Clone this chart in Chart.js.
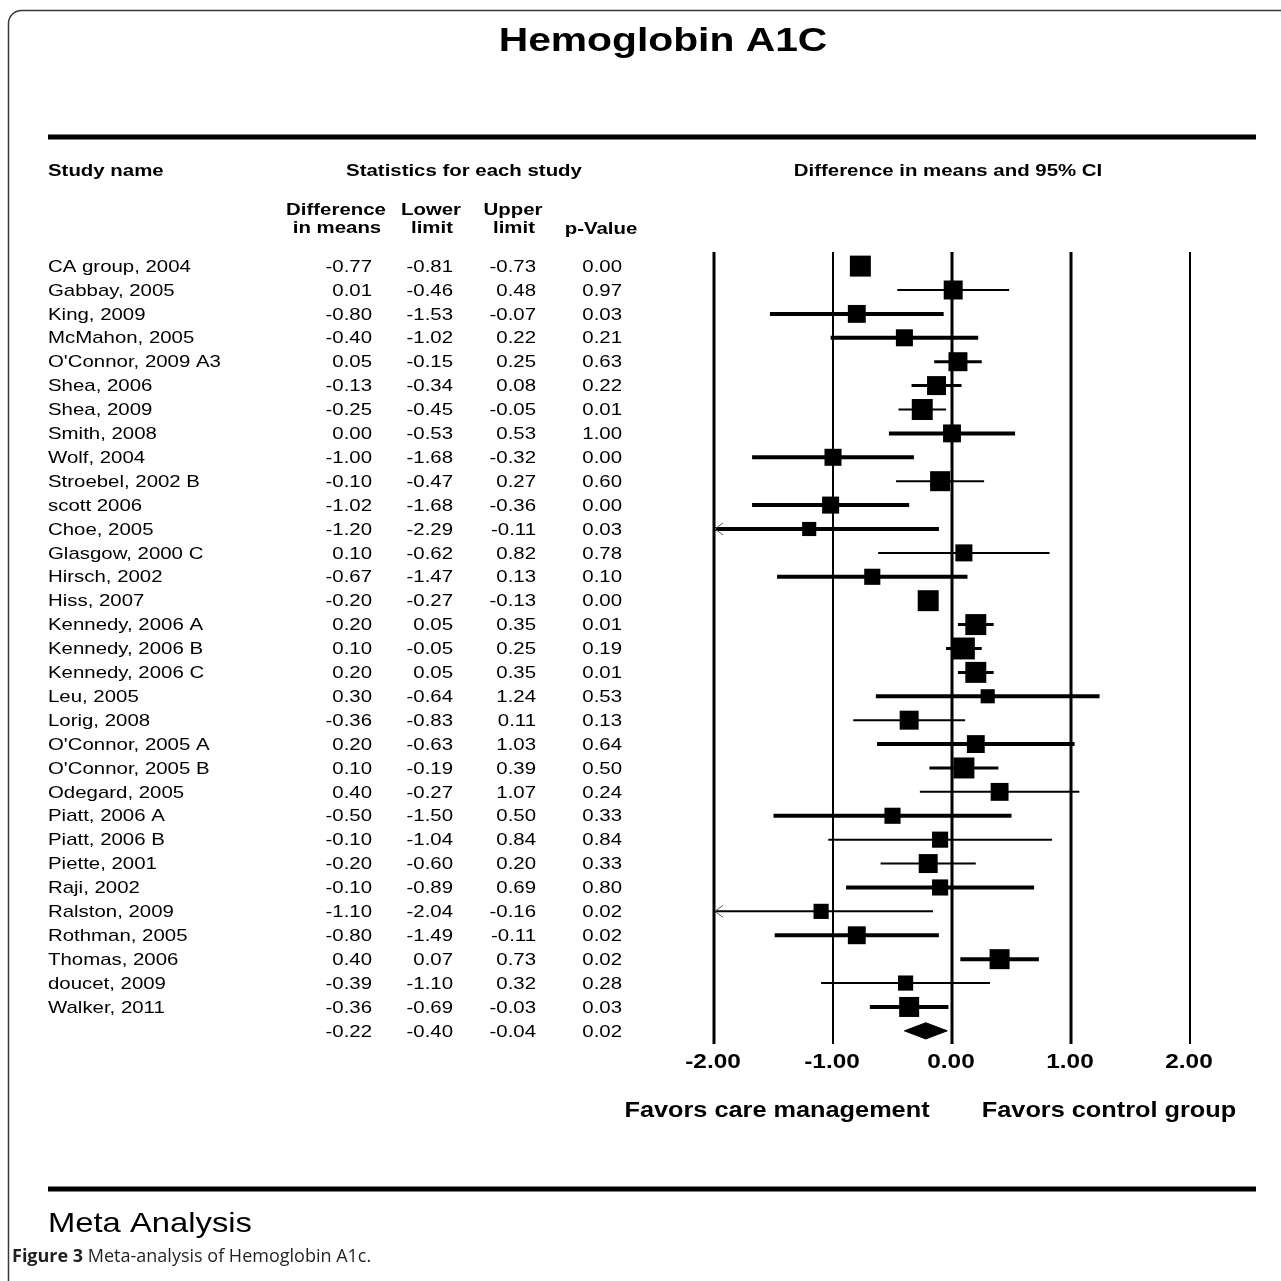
<!DOCTYPE html>
<html>
<head>
<meta charset="utf-8">
<script src="https://cdn.jsdelivr.net/npm/chart.js@4.4.1/dist/chart.umd.min.js"></script>
<style>
  html, body { margin: 0; padding: 0; background: #fff; }
  canvas { display: block; }
</style>
</head>
<body>
<canvas id="forest" width="1281" height="1281"></canvas>
<script>
// study rows, top to bottom
const studies = [
  'CA group, 2004', 'Gabbay, 2005', 'King, 2009', 'McMahon, 2005', "O'Connor, 2009 A3",
  'Shea, 2006', 'Shea, 2009', 'Smith, 2008', 'Wolf, 2004', 'Stroebel, 2002 B',
  'scott 2006', 'Choe, 2005', 'Glasgow, 2000 C', 'Hirsch, 2002', 'Hiss, 2007',
  'Kennedy, 2006 A', 'Kennedy, 2006 B', 'Kennedy, 2006 C', 'Leu, 2005', 'Lorig, 2008',
  "O'Connor, 2005 A", "O'Connor, 2005 B", 'Odegard, 2005', 'Piatt, 2006 A', 'Piatt, 2006 B',
  'Piette, 2001', 'Raji, 2002', 'Ralston, 2009', 'Rothman, 2005', 'Thomas, 2006',
  'doucet, 2009', 'Walker, 2011'
];
const diffs = [
  -0.77, 0.01, -0.80, -0.40, 0.05, -0.13, -0.25, 0.00, -1.00, -0.10,
  -1.02, -1.20, 0.10, -0.67, -0.20, 0.20, 0.10, 0.20, 0.30, -0.36,
  0.20, 0.10, 0.40, -0.50, -0.10, -0.20, -0.10, -1.10, -0.80, 0.40,
  -0.39, -0.36
];
const lowers = [
  -0.81, -0.46, -1.53, -1.02, -0.15, -0.34, -0.45, -0.53, -1.68, -0.47,
  -1.68, -2.29, -0.62, -1.47, -0.27, 0.05, -0.05, 0.05, -0.64, -0.83,
  -0.63, -0.19, -0.27, -1.50, -1.04, -0.60, -0.89, -2.04, -1.49, 0.07,
  -1.10, -0.69
];
const uppers = [
  -0.73, 0.48, -0.07, 0.22, 0.25, 0.08, -0.05, 0.53, -0.32, 0.27,
  -0.36, -0.11, 0.82, 0.13, -0.13, 0.35, 0.25, 0.35, 1.24, 0.11,
  1.03, 0.39, 1.07, 0.50, 0.84, 0.20, 0.69, -0.16, -0.11, 0.73,
  0.32, -0.03
];
const pValues = [
  0.00, 0.97, 0.03, 0.21, 0.63, 0.22, 0.01, 1.00, 0.00, 0.60,
  0.00, 0.03, 0.78, 0.10, 0.00, 0.01, 0.19, 0.01, 0.53, 0.13,
  0.64, 0.50, 0.24, 0.33, 0.84, 0.33, 0.80, 0.02, 0.02, 0.02,
  0.28, 0.03
];
// relative study weights (%)
const weights = [
  4.4, 3.6, 3.2, 2.9, 3.6, 3.6, 4.4, 3.2, 2.9, 4.0,
  2.9, 2.0, 2.9, 2.6, 4.4, 4.4, 4.8, 4.4, 2.0, 3.6,
  3.2, 4.4, 3.2, 2.6, 2.6, 3.6, 2.6, 2.3, 3.2, 4.0,
  2.3, 4.0
];
// pooled result
const summaryDiff = -0.22;
const summaryLower = -0.40;
const summaryUpper = -0.04;
const summaryP = 0.02;

const xTicks = [-2, -1, 0, 1, 2];

const FONT = '"Liberation Sans", Arial, sans-serif';
const summaryRow = studies.length;
// CI stroke widths as they come out in the original export
const ciWidths = [
  4, 2, 4, 4, 3, 3, 2, 4, 4, 2,
  4, 4, 2, 4, 3, 3, 3, 3, 4, 2,
  4, 3, 2, 4, 2, 2, 4, 2, 4, 4,
  2, 4
];

// text is a bit wider than the font, like the original export
function txt(ctx, s, x, y, font, align, sx) {
  ctx.save();
  ctx.translate(x, y);
  ctx.scale(sx, 1);
  ctx.font = font;
  ctx.textAlign = align;
  ctx.textBaseline = 'middle';
  ctx.fillText(s, 0, 0);
  ctx.restore();
}

function hline(ctx, x1, x2, y, w) {
  ctx.lineWidth = w;
  ctx.beginPath();
  ctx.moveTo(x1, y);
  ctx.lineTo(x2, y);
  ctx.stroke();
}

const ciPoints = [];
studies.forEach((s, i) => {
  ciPoints.push({x: lowers[i], y: i}, {x: uppers[i], y: i}, {x: uppers[i], y: null});
});
const boxPoints = diffs.map((d, i) => ({x: d, y: i}));
const boxRadius = weights.map(w => 10 * Math.sqrt(w) / Math.SQRT2);
const diamond = [
  {x: summaryLower, y: summaryRow},
  {x: summaryDiff, y: summaryRow - 0.34},
  {x: summaryUpper, y: summaryRow},
  {x: summaryDiff, y: summaryRow + 0.34},
  {x: summaryLower, y: summaryRow}
];

const forestTable = {
  id: 'forestTable',
  beforeDatasetsDraw(chart) {
    const {ctx, chartArea, scales: {x}} = chart;
    const widths = [3, 2, 3, 3, 2];
    ctx.save();
    ctx.strokeStyle = '#000';
    xTicks.forEach((t, k) => {
      const px = Math.round(x.getPixelForValue(t));
      ctx.lineWidth = widths[k];
      ctx.beginPath();
      ctx.moveTo(px, chartArea.top);
      ctx.lineTo(px, chartArea.bottom);
      ctx.stroke();
    });
    ctx.restore();
  },
  afterDatasetsDraw(chart) {
    const {ctx, scales: {x, y}} = chart;
    ctx.save();
    ctx.strokeStyle = '#555';
    ctx.lineWidth = 1;
    studies.forEach((s, i) => {
      if (lowers[i] < x.min) {
        const px = x.getPixelForValue(x.min) + 1;
        const py = y.getPixelForValue(i);
        ctx.beginPath();
        ctx.moveTo(px + 8, py - 6);
        ctx.lineTo(px, py);
        ctx.lineTo(px + 8, py + 6);
        ctx.stroke();
      }
    });
    ctx.restore();
  },
  afterDraw(chart) {
    const {ctx, scales: {x, y}} = chart;
    ctx.save();
    ctx.fillStyle = '#000';

    // frame
    ctx.strokeStyle = '#3a3a3a';
    ctx.lineWidth = 1.5;
    ctx.beginPath();
    ctx.moveTo(8.5, 1281);
    ctx.lineTo(8.5, 24);
    ctx.arcTo(8.5, 10.5, 22, 10.5, 13);
    ctx.lineTo(1281, 10.5);
    ctx.stroke();

    ctx.strokeStyle = '#000';
    txt(ctx, 'Hemoglobin A1C', 663, 42, 'bold 34px ' + FONT, 'center', 1.2);
    hline(ctx, 48, 1256, 137, 5);

    const hb = 'bold 17px ' + FONT;
    txt(ctx, 'Study name', 48, 171, hb, 'left', 1.2);
    txt(ctx, 'Statistics for each study', 464, 171, hb, 'center', 1.2);
    txt(ctx, 'Difference in means and 95% CI', 948, 171, hb, 'center', 1.2);
    txt(ctx, 'Difference', 336, 210, hb, 'center', 1.2);
    txt(ctx, 'in means', 337, 228, hb, 'center', 1.2);
    txt(ctx, 'Lower', 431, 210, hb, 'center', 1.2);
    txt(ctx, 'limit', 432, 228, hb, 'center', 1.2);
    txt(ctx, 'Upper', 513, 210, hb, 'center', 1.2);
    txt(ctx, 'limit', 514, 228, hb, 'center', 1.2);
    txt(ctx, 'p-Value', 601, 229, hb, 'center', 1.2);

    const rf = '17px ' + FONT;
    const row = (name, d, lo, hi, p, i) => {
      const py = y.getPixelForValue(i) + 1;
      if (name) txt(ctx, name, 48, py, rf, 'left', 1.2);
      txt(ctx, d.toFixed(2), 372, py, rf, 'right', 1.2);
      txt(ctx, lo.toFixed(2), 453, py, rf, 'right', 1.2);
      txt(ctx, hi.toFixed(2), 536, py, rf, 'right', 1.2);
      txt(ctx, p.toFixed(2), 622, py, rf, 'right', 1.2);
    };
    studies.forEach((s, i) => row(s, diffs[i], lowers[i], uppers[i], pValues[i], i));
    row('', summaryDiff, summaryLower, summaryUpper, summaryP, summaryRow);

    xTicks.forEach(t => {
      txt(ctx, t.toFixed(2), x.getPixelForValue(t) - 1, 1062, 'bold 20px ' + FONT, 'center', 1.22);
    });
    txt(ctx, 'Favors care management', 777, 1111, 'bold 22px ' + FONT, 'center', 1.15);
    txt(ctx, 'Favors control group', 1109, 1111, 'bold 22px ' + FONT, 'center', 1.15);

    hline(ctx, 48, 1256, 1189, 5);
    txt(ctx, 'Meta Analysis', 48, 1224, '28px ' + FONT, 'left', 1.17);

    ctx.fillStyle = '#231f20';
    ctx.font = 'bold 18px "Open Sans", sans-serif';
    ctx.textAlign = 'left';
    ctx.textBaseline = 'middle';
    ctx.fillText('Figure 3', 12, 1257);
    const w = ctx.measureText('Figure 3 ').width;
    ctx.font = '18px "Open Sans", sans-serif';
    ctx.fillText('Meta-analysis of Hemoglobin A1c.', 12 + w, 1257);
    ctx.restore();
  }
};

new Chart(document.getElementById('forest'), {
  type: 'scatter',
  data: {
    datasets: [
      {
        type: 'line',
        data: ciPoints,
        borderColor: '#000',
        borderWidth: 3,
        segment: {
          borderWidth: ctx => ciWidths[Math.floor(ctx.p0DataIndex / 3)]
        },
        pointRadius: 0,
        spanGaps: false
      },
      {
        data: boxPoints,
        pointStyle: 'rect',
        pointRadius: ctx => boxRadius[ctx.dataIndex],
        pointHoverRadius: ctx => boxRadius[ctx.dataIndex],
        backgroundColor: '#000',
        borderWidth: 0
      },
      {
        type: 'line',
        data: diamond,
        borderColor: '#000',
        borderWidth: 1,
        backgroundColor: '#000',
        fill: 'shape',
        pointRadius: 0
      }
    ]
  },
  options: {
    responsive: false,
    animation: false,
    events: [],
    layout: { padding: { left: 714, right: 91, top: 252, bottom: 237 } },
    scales: {
      x: { type: 'linear', min: -2, max: 2, display: false },
      y: { type: 'linear', min: -0.59, max: 32.55, reverse: true, display: false }
    },
    plugins: {
      legend: { display: false },
      tooltip: { enabled: false }
    }
  },
  plugins: [forestTable]
});
</script>
</body>
</html>
